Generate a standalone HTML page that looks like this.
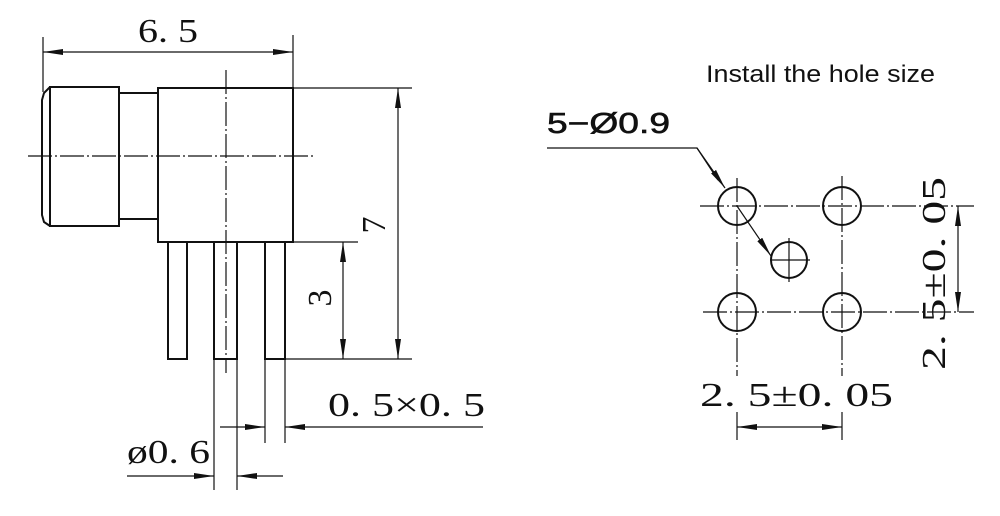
<!DOCTYPE html>
<html><head><meta charset="utf-8"><style>body{margin:0;background:#fff}svg{display:block}</style></head><body>
<svg width="1000" height="516" viewBox="0 0 1000 516" xmlns="http://www.w3.org/2000/svg">
<defs>
<marker id="a" viewBox="0 0 20 8" refX="20" refY="4" markerWidth="20" markerHeight="8" orient="auto" markerUnits="userSpaceOnUse"><path d="M0,1 L20,4 L0,7Z" fill="#111"/></marker>
</defs>
<g stroke="#111" fill="none" stroke-width="1.2">
<line x1="43" y1="37" x2="43" y2="92"/><line x1="293" y1="35" x2="293" y2="88"/>
<line x1="168" y1="52" x2="43" y2="52" marker-end="url(#a)"/><line x1="168" y1="52" x2="293" y2="52" marker-end="url(#a)"/>
<g stroke-width="2">
<path d="M50,87 L119,87 L119,226 L50,226 Z"/>
<path d="M50,87 L44,93 L42,100 L42,215 L44,222 L50,226"/>
<path d="M119,93 L158,93 M119,219 L158,219"/>
<rect x="158" y="88" width="135" height="154"/>
<path d="M168,242 V359 H187 V242 M214,242 V359 H237 V242 M265,242 V359 H285 V242"/>
</g>
<line x1="28" y1="156" x2="316" y2="156" stroke-dasharray="24,3,2,3"/>
<line x1="226" y1="70" x2="226" y2="373" stroke-dasharray="24,3,2,3"/>
<line x1="293" y1="88" x2="412" y2="88"/><line x1="285" y1="359" x2="412" y2="359"/><line x1="293" y1="242" x2="358" y2="242"/>
<line x1="398" y1="225" x2="398" y2="88" marker-end="url(#a)"/><line x1="398" y1="225" x2="398" y2="359" marker-end="url(#a)"/>
<line x1="343" y1="300" x2="343" y2="242" marker-end="url(#a)"/><line x1="343" y1="300" x2="343" y2="359" marker-end="url(#a)"/>
<line x1="265" y1="359" x2="265" y2="443"/><line x1="285" y1="359" x2="285" y2="443"/>
<line x1="220" y1="427" x2="265" y2="427" marker-end="url(#a)"/><line x1="483" y1="427" x2="285" y2="427" marker-end="url(#a)"/>
<line x1="214" y1="359" x2="214" y2="490"/><line x1="237" y1="359" x2="237" y2="490"/>
<line x1="127" y1="476" x2="214" y2="476" marker-end="url(#a)"/><line x1="283" y1="476" x2="237" y2="476" marker-end="url(#a)"/>
<polyline points="547,148 697,148 718,180"/>
<line x1="697" y1="148" x2="725" y2="188" marker-end="url(#a)"/>
<line x1="737" y1="206" x2="771" y2="256" marker-end="url(#a)"/>
<line x1="700" y1="206" x2="974" y2="206" stroke-dasharray="24,3,2,3"/>
<line x1="703" y1="312" x2="974" y2="312" stroke-dasharray="24,3,2,3"/>
<line x1="737" y1="178" x2="737" y2="376" stroke-dasharray="24,3,2,3"/>
<line x1="842" y1="176" x2="842" y2="376" stroke-dasharray="24,3,2,3"/>
<line x1="737" y1="412" x2="737" y2="440"/><line x1="842" y1="412" x2="842" y2="440"/>
<line x1="770" y1="260" x2="810" y2="260"/><line x1="789" y1="238" x2="789" y2="282"/>
<g stroke-width="2">
<circle cx="737" cy="206" r="19"/><circle cx="842" cy="206" r="19"/>
<circle cx="737" cy="312" r="19"/><circle cx="842" cy="312" r="19"/>
<circle cx="789" cy="260" r="18"/>
</g>
<line x1="958" y1="259" x2="958" y2="206" marker-end="url(#a)"/><line x1="958" y1="259" x2="958" y2="312" marker-end="url(#a)"/>
<line x1="790" y1="427" x2="737" y2="427" marker-end="url(#a)"/><line x1="790" y1="427" x2="842" y2="427" marker-end="url(#a)"/>
</g>
<g fill="#111" font-family="Liberation Serif, serif" font-size="34">
<text x="138" y="42" textLength="60" lengthAdjust="spacingAndGlyphs">6. 5</text>
<text x="328" y="416" textLength="157" lengthAdjust="spacingAndGlyphs">0. 5×0. 5</text>
<text x="127" y="463" textLength="83" lengthAdjust="spacingAndGlyphs">ø0. 6</text>
<text x="700" y="406" textLength="193" lengthAdjust="spacingAndGlyphs">2. 5±0. 05</text>
<text transform="translate(385,225) rotate(-90)" text-anchor="middle">7</text>
<text transform="translate(331,298) rotate(-90)" text-anchor="middle">3</text>
<text transform="translate(945,370) rotate(-90)" textLength="193" lengthAdjust="spacingAndGlyphs">2. 5±0. 05</text>
</g>
<text x="547" y="133" font-family="Liberation Sans, sans-serif" font-size="29" fill="#111" stroke="#111" stroke-width="0.6" textLength="123" lengthAdjust="spacingAndGlyphs">5−Ø0.9</text>
<text x="706" y="82" font-family="Liberation Sans, sans-serif" font-size="24" fill="#111" textLength="229" lengthAdjust="spacingAndGlyphs">Install the hole size</text>
</svg>
</body></html>
